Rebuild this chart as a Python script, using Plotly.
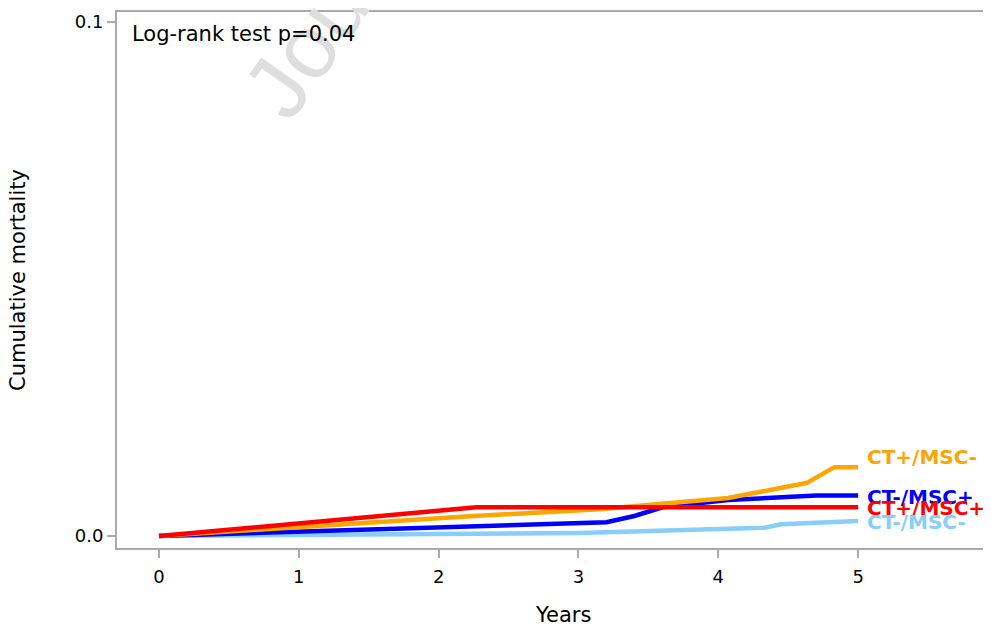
import plotly.graph_objects as go

# Data
groups = ["CT+/MSC-", "CT-/MSC+", "CT+/MSC+", "CT-/MSC-"]
colors = ["#FFA500", "#0000FF", "#FF0000", "#87CEFA"]

t_ct_pos_msc_neg = [0, 2.25, 3.15, 4.07, 4.63, 4.83, 5.0]
y_ct_pos_msc_neg = [0, 0.0039, 0.0052, 0.0074, 0.0103, 0.0134, 0.0134]

t_ct_neg_msc_pos = [0, 2.0, 3.15, 3.2, 3.4, 3.5, 3.6, 4.07, 4.7, 5.0]
y_ct_neg_msc_pos = [0, 0.0016, 0.0025, 0.0027, 0.0039, 0.0048, 0.0056, 0.0070, 0.0079, 0.0079]

t_ct_pos_msc_pos = [0, 2.27, 5.0]
y_ct_pos_msc_pos = [0, 0.0056, 0.0056]

t_ct_neg_msc_neg = [0, 2.0, 3.0, 4.33, 4.45, 5.0]
y_ct_neg_msc_neg = [0, 0.0004, 0.0006, 0.0016, 0.0023, 0.0029]

label_y = [0.0153, 0.0076, 0.0054, 0.0027]

x_ticks = [0, 1, 2, 3, 4, 5]
y_ticks = [0, 0.1]
y_ticktext = ["0.0", "0.1"]

FONT = "DejaVu Sans"

series_t = [t_ct_pos_msc_neg, t_ct_neg_msc_pos, t_ct_pos_msc_pos, t_ct_neg_msc_neg]
series_y = [y_ct_pos_msc_neg, y_ct_neg_msc_pos, y_ct_pos_msc_pos, y_ct_neg_msc_neg]

fig = go.Figure()
# draw order: light blue, blue, orange, red on top
for i in [3, 1, 0, 2]:
    fig.add_trace(go.Scatter(x=series_t[i], y=series_y[i], mode="lines",
                             line=dict(color=colors[i], width=4.5),
                             name=groups[i], showlegend=False))

annotations = []
# watermark (drawn first, behind other annotations)
annotations.append(dict(x=0.397, y=1.355, xref="paper", yref="paper",
                        text="Journal Pre-proof", showarrow=False, textangle=-55,
                        xanchor="center", yanchor="middle",
                        font=dict(family="Liberation Sans", size=90, color="#dedede")))
for i, g in enumerate(groups):
    annotations.append(dict(x=5.05, y=label_y[i], xref="x", yref="y", text=g,
                            showarrow=False, xanchor="left", yanchor="middle",
                            font=dict(family=FONT, size=20, color=colors[i],
                                      weight="bold")))

annotations.append(dict(x=0.0149, y=0.959, xref="paper", yref="paper",
                        text="Log-rank test p=0.04", showarrow=False,
                        xanchor="left", yanchor="middle",
                        font=dict(family=FONT, size=21, color="black")))
annotations.append(dict(x=0.511, y=-0.1245, xref="paper", yref="paper",
                        text="Years", showarrow=False, xanchor="center", yanchor="middle",
                        font=dict(family=FONT, size=21, color="black")))
annotations.append(dict(x=-0.1134, y=0.5, xref="paper", yref="paper",
                        text="Cumulative mortality", showarrow=False,
                        textangle=-90, xanchor="center", yanchor="middle",
                        font=dict(family=FONT, size=21, color="black")))

fig.update_layout(
    width=991, height=627,
    margin=dict(l=109, r=9, t=2, b=87),
    plot_bgcolor="white", paper_bgcolor="white",
    annotations=annotations,
    font=dict(family=FONT, size=18, color="black"),
)
fig.update_xaxes(range=[-0.3, 5.943], tickvals=x_ticks, ticks="outside", ticklen=8,
                 tickwidth=2, tickcolor="#aaaaaa", showline=True, linewidth=2,
                 linecolor="#aaaaaa", mirror=True, showgrid=False, zeroline=False,
                 ticklabelstandoff=3, tickfont=dict(size=18, family=FONT))
fig.update_yaxes(range=[-0.00233, 0.10194], tickvals=y_ticks, ticktext=y_ticktext,
                 ticks="outside", ticklen=8, tickwidth=2, tickcolor="#aaaaaa",
                 showline=True, linewidth=2, linecolor="#aaaaaa", mirror=True,
                 showgrid=False, zeroline=False, tickfont=dict(size=18, family=FONT))

fig.write_html("out.html")
